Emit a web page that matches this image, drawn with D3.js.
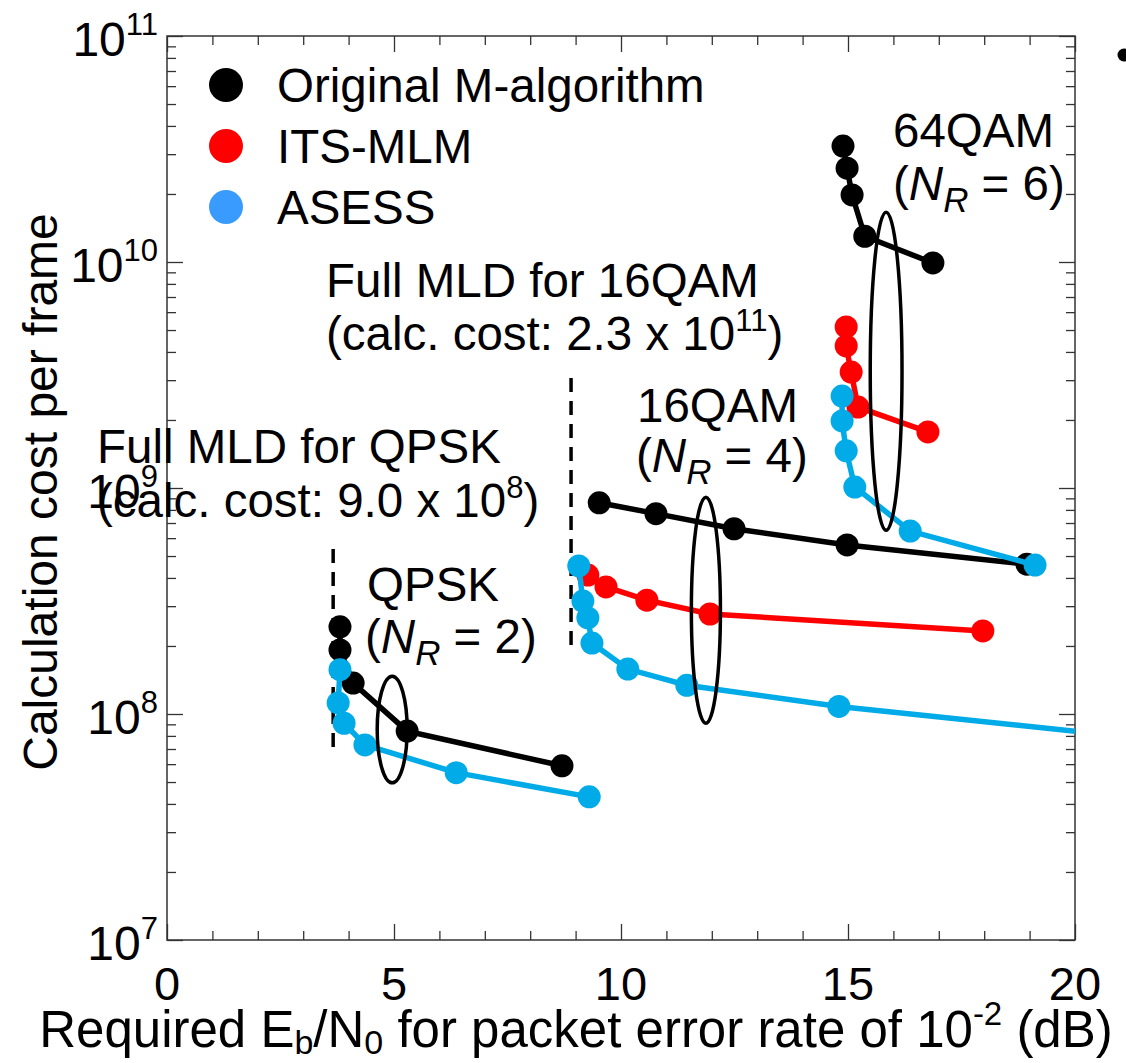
<!DOCTYPE html>
<html lang="en">
<head>
    <meta charset="UTF-8">
    <title>Calculation cost vs required Eb/N0</title>
    <script src="https://d3js.org/d3.v7.min.js"></script>
    <style>
        body { margin: 0; background: #fff; }
        svg { display: block; font-family: "Liberation Sans", Arial, sans-serif; }
    </style>
</head>
<body>
    <div id="chart"></div>
    <script>

// values: [Eb/N0 (dB), calculation cost]
const qpskOriginal = [[3.81, 2.43e8], [3.81, 1.92e8], [4.10, 1.37e8], [5.29, 8.4e7], [8.70, 5.9e7]];
const qpskAsess = [[3.81, 1.57e8], [3.77, 1.12e8], [3.90, 9.1e7], [4.36, 7.3e7], [6.37, 5.5e7], [9.30, 4.3e7]];

const qam16Original = [[9.52, 8.6e8], [10.77, 7.7e8], [12.49, 6.6e8], [14.98, 5.6e8], [18.94, 4.6e8]];
const qam16Its = [[9.27, 4.12e8], [9.67, 3.65e8], [10.57, 3.19e8], [11.96, 2.77e8], [17.97, 2.33e8]];
const qam16Asess = [[9.07, 4.52e8], [9.16, 3.16e8], [9.27, 2.66e8], [9.36, 2.06e8], [10.15, 1.58e8], [11.45, 1.34e8], [14.80, 1.08e8], [21.5, 7.8e7]];

const qam64Original = [[14.89, 3.26e10], [14.98, 2.6e10], [15.09, 1.98e10], [15.37, 1.30e10], [16.87, 9.9e9]];
const qam64Its = [[14.96, 5.16e9], [14.96, 4.25e9], [15.07, 3.26e9], [15.22, 2.28e9], [16.76, 1.77e9]];
const qam64Asess = [[14.87, 2.55e9], [14.87, 1.98e9], [14.96, 1.46e9], [15.15, 1.01e9], [16.37, 6.45e8], [19.12, 4.56e8]];

const legendNames = ["Original M-algorithm", "ITS-MLM", "ASESS"];
const xTicks = [0, 5, 10, 15, 20];
const yDecades = [7, 8, 9, 10, 11];

// full MLD reference lines: x, lower and upper cost
const fullMld = [[3.66, 7.15e7, 5.7e8], [8.90, 2.02e8, 3.07e9]];
// grouping ellipses: centre x, half width (dB), lower and upper cost
const groupEllipses = [[4.96, 0.33, 4.96e7, 1.47e8], [11.87, 0.32, 9.1e7, 9.1e8], [15.84, 0.35, 6.5e8, 1.66e10]];

const W = 1126, H = 1063;
const plotLeft = 167, plotRight = 1075, plotTop = 36, plotBottom = 940;
const colors = { orig: "#000000", its: "#ff0000", asess: "#00abe8", legendAsess: "#3a9bff" };
const fs = 47.5;

const svg = d3.select("#chart").append("svg").attr("width", W).attr("height", H);

const x = d3.scaleLinear().domain([0, 20]).range([plotLeft, plotRight]);
const y = d3.scaleLog().domain([1e7, 1e11]).range([plotBottom, plotTop]);

// ticks (all pointing inward)
const xMinor = d3.range(0, 21).filter(v => v % 5 !== 0);
const yMinor = [];
yDecades.slice(0, -1).forEach(d => { for (let m = 2; m <= 9; m++) yMinor.push(m * Math.pow(10, d)); });
const yMajor = yDecades.map(d => Math.pow(10, d));

function tickGroup(axis, tx, ty) {
    const g = svg.append("g").attr("transform", `translate(${tx},${ty})`).call(axis);
    g.select(".domain").remove();
    g.selectAll("text").remove();
    g.selectAll("line").attr("stroke", "#333").attr("stroke-width", 1.3);
}
tickGroup(d3.axisBottom(x).tickValues(xTicks).tickSize(-16), 0, plotBottom);
tickGroup(d3.axisBottom(x).tickValues(xMinor).tickSize(-9), 0, plotBottom);
tickGroup(d3.axisTop(x).tickValues(xTicks).tickSize(-16), 0, plotTop);
tickGroup(d3.axisTop(x).tickValues(xMinor).tickSize(-9), 0, plotTop);
tickGroup(d3.axisLeft(y).tickValues(yMajor).tickSize(-16), plotLeft, 0);
tickGroup(d3.axisLeft(y).tickValues(yMinor).tickSize(-9), plotLeft, 0);
tickGroup(d3.axisRight(y).tickValues(yMajor).tickSize(-16), plotRight, 0);
tickGroup(d3.axisRight(y).tickValues(yMinor).tickSize(-9), plotRight, 0);

svg.append("rect")
    .attr("x", plotLeft).attr("y", plotTop)
    .attr("width", plotRight - plotLeft).attr("height", plotBottom - plotTop)
    .attr("fill", "none").attr("stroke", "#333").attr("stroke-width", 1.5);

// tick labels
svg.append("g").selectAll("text").data(xTicks).enter().append("text")
    .attr("x", d => x(d)).attr("y", plotBottom + 60)
    .attr("text-anchor", "middle").attr("font-size", 47)
    .text(d => d);

const yLab = svg.append("g").selectAll("text").data(yDecades).enter().append("text")
    .attr("x", plotLeft - 9).attr("y", d => y(Math.pow(10, d)) + 20)
    .attr("text-anchor", "end").attr("font-size", 48);
yLab.append("tspan").text("10");
yLab.append("tspan").attr("dy", -21).attr("font-size", 31).text(d => d);

// axis titles
svg.append("text")
    .attr("transform", `translate(57,492) rotate(-90)`)
    .attr("text-anchor", "middle").attr("font-size", 48)
    .text("Calculation cost per frame");

const xt = svg.append("text").attr("x", 576).attr("y", 1047)
    .attr("text-anchor", "middle").attr("font-size", 51);
xt.append("tspan").text("Required E");
xt.append("tspan").attr("dy", 7).attr("font-size", 34).text("b");
xt.append("tspan").attr("dy", -7).text("/N");
xt.append("tspan").attr("dy", 7).attr("font-size", 34).text("0");
xt.append("tspan").attr("dy", -7).text(" for packet error rate of 10");
xt.append("tspan").attr("dy", -22).attr("font-size", 33).text("-2");
xt.append("tspan").attr("dy", 22).text(" (dB)");

// annotation text
function plainText(tx, ty, str) {
    return svg.append("text").attr("x", tx).attr("y", ty).attr("font-size", fs).text(str);
}
function powerText(tx, ty, before, exp) {
    const t = svg.append("text").attr("x", tx).attr("y", ty).attr("font-size", fs);
    t.append("tspan").text(before);
    t.append("tspan").attr("dy", -19).attr("font-size", 31).text(exp);
    t.append("tspan").attr("dy", 19).text(")");
}
function nrText(tx, ty, n) {
    const t = svg.append("text").attr("x", tx).attr("y", ty).attr("font-size", fs);
    t.append("tspan").text("(");
    t.append("tspan").attr("font-style", "italic").text("N");
    t.append("tspan").attr("font-style", "italic").attr("font-size", 35).attr("dy", 12).text("R");
    t.append("tspan").attr("dy", -12).text(` = ${n})`);
}
plainText(893, 147, "64QAM");
nrText(893, 200, 6);
plainText(326, 297, "Full MLD for 16QAM");
powerText(326, 350, "(calc. cost: 2.3 x 10", "11");
plainText(637, 422, "16QAM");
nrText(636, 472, 4);
plainText(97, 463, "Full MLD for QPSK");
powerText(97, 517, "(calc. cost: 9.0 x 10", "8");
plainText(367, 601, "QPSK");
nrText(365, 653, 2);

// full MLD dashed markers
svg.append("g").selectAll("line").data(fullMld).enter().append("line")
    .attr("x1", d => x(d[0])).attr("x2", d => x(d[0]))
    .attr("y1", d => y(d[1])).attr("y2", d => y(d[2]))
    .attr("stroke", "#000").attr("stroke-width", 3.5).attr("stroke-dasharray", "14,9");

svg.append("clipPath").attr("id", "plot-clip").append("rect")
    .attr("x", plotLeft).attr("y", plotTop).attr("width", plotRight - plotLeft).attr("height", plotBottom - plotTop);

const plot = svg.append("g").attr("clip-path", "url(#plot-clip)");
const line = d3.line().x(d => x(d[0])).y(d => y(d[1]));

const series = [
    [qpskOriginal, colors.orig], [qam16Original, colors.orig], [qam64Original, colors.orig],
    [qam16Its, colors.its], [qam64Its, colors.its],
    [qpskAsess, colors.asess], [qam16Asess, colors.asess], [qam64Asess, colors.asess]
];
series.forEach(([pts, c]) => {
    const g = plot.append("g");
    g.append("path").datum(pts).attr("d", line)
        .attr("fill", "none").attr("stroke", c).attr("stroke-width", 5.5);
    g.selectAll("circle").data(pts).enter().append("circle")
        .attr("cx", d => x(d[0])).attr("cy", d => y(d[1])).attr("r", 11.5)
        .attr("fill", c);
});

// grouping ellipses
svg.append("g").selectAll("ellipse").data(groupEllipses).enter().append("ellipse")
    .attr("cx", d => x(d[0]))
    .attr("cy", d => (y(d[2]) + y(d[3])) / 2)
    .attr("rx", d => x(d[1]) - x(0))
    .attr("ry", d => (y(d[2]) - y(d[3])) / 2)
    .attr("fill", "none").attr("stroke", "#000").attr("stroke-width", 3.5);

// legend
const legendColors = [colors.orig, colors.its, colors.legendAsess];
const leg = svg.append("g").selectAll("g").data(legendNames).enter().append("g")
    .attr("transform", (d, i) => `translate(226,${85 + i * 61})`);
leg.append("circle").attr("r", 17).attr("fill", (d, i) => legendColors[i]);
leg.append("text").attr("x", 51).attr("y", 17).attr("font-size", fs).text(d => d);

// stray bullet at the top right edge
svg.append("circle").attr("cx", 1124).attr("cy", 55).attr("r", 6.5).attr("fill", "#000");

    </script>
</body>
</html>
